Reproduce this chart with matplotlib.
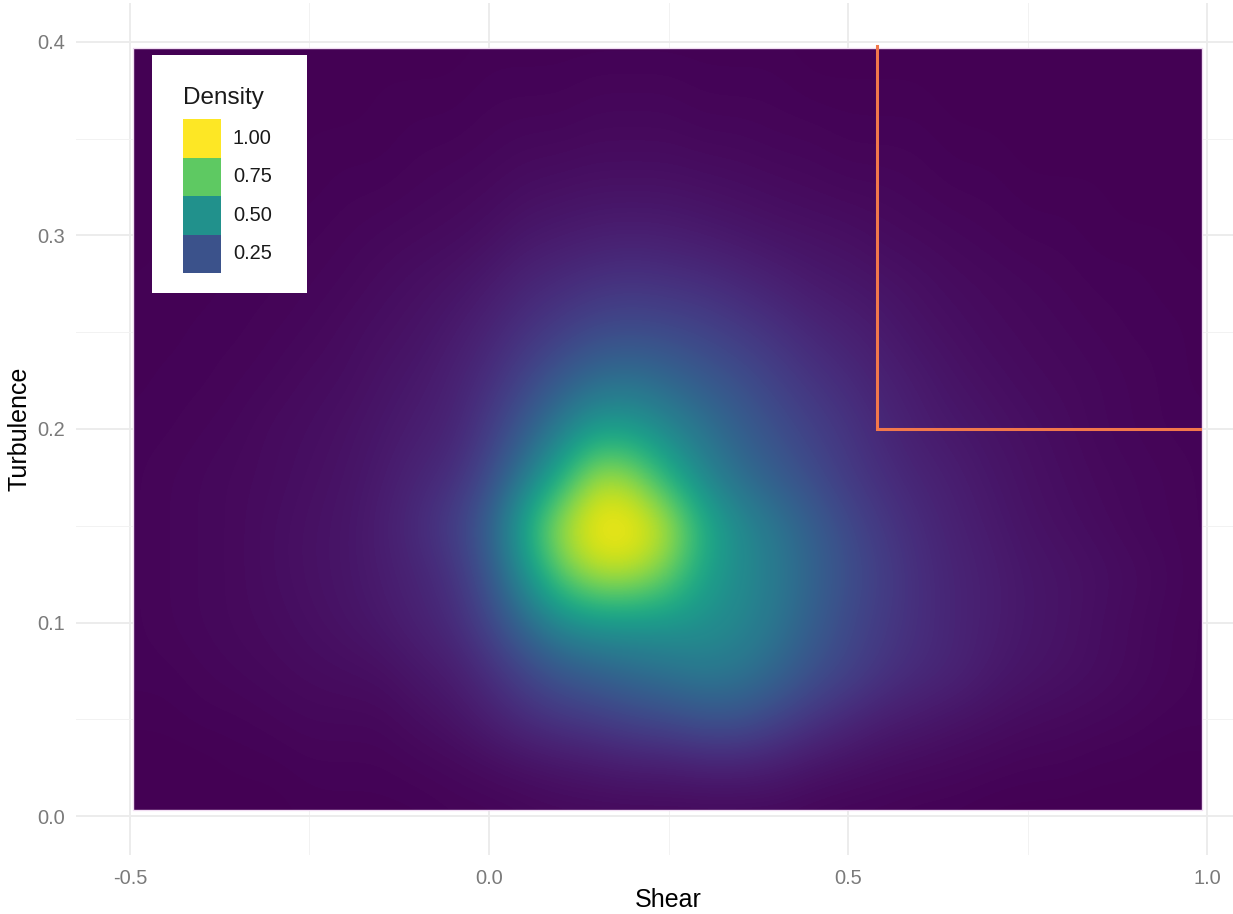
import numpy as np
import matplotlib
matplotlib.use("Agg")
import matplotlib.pyplot as plt
from matplotlib.patches import Rectangle

plt.rcParams['font.family'] = ['Liberation Sans', 'DejaVu Sans']

# scaled 2d density of shear vs turbulence, sampled on a regular grid
shear_vals = np.round(np.arange(-0.5, 1.0001, 0.05), 3)      # 31 columns
turb_vals = np.round(np.arange(0.0, 0.4001, 0.025), 3)       # 17 rows

#            -0.5  -0.45 -0.4  -0.35 -0.3  -0.25 -0.2  -0.15 -0.1  -0.05  0.0   0.05  0.1   0.15  0.2   0.25  0.3   0.35  0.4   0.45  0.5   0.55  0.6   0.65  0.7   0.75  0.8   0.85  0.9   0.95  1.0
dens_000 = [0.0, 0.0, 0.0, 0.0, 0.0, 0.005, 0.005, 0.005, 0.005, 0.01, 0.01, 0.015, 0.02, 0.02, 0.02, 0.02, 0.02, 0.02, 0.02, 0.015, 0.01, 0.01, 0.005, 0.005, 0.0, 0.0, 0.0, 0.0, 0.0, 0.0, 0.0]
dens_025 = [0.0, 0.0, 0.0, 0.005, 0.005, 0.01, 0.01, 0.01, 0.015, 0.02, 0.03, 0.04, 0.05, 0.06, 0.07, 0.07, 0.08, 0.08, 0.07, 0.05, 0.04, 0.03, 0.025, 0.02, 0.015, 0.01, 0.01, 0.005, 0.005, 0.0, 0.0]
dens_050 = [0.005, 0.005, 0.01, 0.01, 0.015, 0.02, 0.02, 0.02, 0.035, 0.05, 0.08, 0.12, 0.15, 0.17, 0.2, 0.22, 0.25, 0.25, 0.2, 0.15, 0.11, 0.08, 0.065, 0.05, 0.04, 0.03, 0.025, 0.02, 0.015, 0.01, 0.01]
dens_075 = [0.01, 0.01, 0.015, 0.02, 0.025, 0.03, 0.035, 0.04, 0.06, 0.08, 0.13, 0.2, 0.27, 0.31, 0.35, 0.38, 0.41, 0.39, 0.33, 0.25, 0.2, 0.15, 0.12, 0.1, 0.07, 0.055, 0.045, 0.035, 0.025, 0.015, 0.01]
dens_100 = [0.01, 0.015, 0.02, 0.025, 0.03, 0.04, 0.05, 0.065, 0.09, 0.12, 0.2, 0.34, 0.47, 0.52, 0.52, 0.52, 0.5, 0.46, 0.39, 0.3, 0.22, 0.17, 0.13, 0.1, 0.08, 0.06, 0.05, 0.035, 0.025, 0.015, 0.01]
dens_125 = [0.01, 0.015, 0.02, 0.025, 0.035, 0.045, 0.055, 0.075, 0.1, 0.14, 0.26, 0.5, 0.76, 0.9, 0.9, 0.78, 0.58, 0.48, 0.41, 0.32, 0.24, 0.18, 0.13, 0.1, 0.08, 0.06, 0.05, 0.04, 0.03, 0.02, 0.01]
dens_150 = [0.01, 0.015, 0.02, 0.025, 0.035, 0.045, 0.055, 0.08, 0.12, 0.18, 0.3, 0.6, 0.88, 1.0, 1.0, 0.9, 0.63, 0.48, 0.39, 0.3, 0.22, 0.16, 0.12, 0.09, 0.07, 0.05, 0.04, 0.03, 0.02, 0.015, 0.01]
dens_175 = [0.01, 0.015, 0.02, 0.025, 0.03, 0.04, 0.05, 0.07, 0.1, 0.13, 0.22, 0.4, 0.62, 0.88, 0.84, 0.63, 0.46, 0.36, 0.29, 0.23, 0.17, 0.13, 0.1, 0.08, 0.06, 0.045, 0.035, 0.025, 0.02, 0.015, 0.01]
dens_200 = [0.01, 0.01, 0.015, 0.02, 0.03, 0.035, 0.045, 0.06, 0.08, 0.1, 0.17, 0.28, 0.42, 0.55, 0.54, 0.46, 0.38, 0.3, 0.24, 0.19, 0.15, 0.11, 0.08, 0.065, 0.05, 0.04, 0.03, 0.02, 0.015, 0.01, 0.01]
dens_225 = [0.005, 0.01, 0.01, 0.015, 0.02, 0.03, 0.035, 0.05, 0.065, 0.09, 0.13, 0.2, 0.28, 0.35, 0.37, 0.33, 0.28, 0.24, 0.19, 0.15, 0.12, 0.09, 0.07, 0.05, 0.04, 0.03, 0.025, 0.02, 0.015, 0.01, 0.005]
dens_250 = [0.005, 0.005, 0.01, 0.01, 0.015, 0.02, 0.03, 0.04, 0.05, 0.07, 0.1, 0.14, 0.18, 0.22, 0.23, 0.22, 0.2, 0.17, 0.14, 0.11, 0.09, 0.07, 0.05, 0.04, 0.03, 0.025, 0.02, 0.015, 0.01, 0.01, 0.005]
dens_275 = [0.005, 0.005, 0.005, 0.01, 0.01, 0.015, 0.02, 0.03, 0.04, 0.05, 0.07, 0.1, 0.12, 0.14, 0.15, 0.14, 0.13, 0.11, 0.09, 0.07, 0.06, 0.05, 0.04, 0.03, 0.025, 0.02, 0.015, 0.01, 0.01, 0.005, 0.005]
dens_300 = [0.0, 0.005, 0.005, 0.005, 0.01, 0.01, 0.015, 0.02, 0.025, 0.03, 0.04, 0.06, 0.07, 0.08, 0.085, 0.08, 0.07, 0.06, 0.05, 0.045, 0.04, 0.03, 0.025, 0.02, 0.015, 0.01, 0.01, 0.005, 0.005, 0.005, 0.0]
dens_325 = [0.0, 0.0, 0.0, 0.005, 0.005, 0.005, 0.01, 0.01, 0.015, 0.02, 0.025, 0.035, 0.04, 0.045, 0.045, 0.045, 0.04, 0.035, 0.03, 0.025, 0.02, 0.02, 0.015, 0.01, 0.01, 0.005, 0.005, 0.005, 0.0, 0.0, 0.0]
dens_350 = [0.0, 0.0, 0.0, 0.0, 0.0, 0.005, 0.005, 0.005, 0.01, 0.01, 0.015, 0.02, 0.02, 0.025, 0.025, 0.025, 0.02, 0.02, 0.015, 0.015, 0.01, 0.01, 0.01, 0.005, 0.005, 0.0, 0.0, 0.0, 0.0, 0.0, 0.0]
dens_375 = [0.0, 0.0, 0.0, 0.0, 0.0, 0.0, 0.0, 0.005, 0.005, 0.005, 0.01, 0.01, 0.01, 0.015, 0.015, 0.015, 0.01, 0.01, 0.01, 0.005, 0.005, 0.005, 0.005, 0.0, 0.0, 0.0, 0.0, 0.0, 0.0, 0.0, 0.0]
dens_400 = [0.0, 0.0, 0.0, 0.0, 0.0, 0.0, 0.0, 0.0, 0.0, 0.0, 0.005, 0.005, 0.005, 0.005, 0.005, 0.005, 0.005, 0.005, 0.005, 0.0, 0.0, 0.0, 0.0, 0.0, 0.0, 0.0, 0.0, 0.0, 0.0, 0.0, 0.0]

density = np.array([dens_000, dens_025, dens_050, dens_075, dens_100, dens_125,
                    dens_150, dens_175, dens_200, dens_225, dens_250, dens_275,
                    dens_300, dens_325, dens_350, dens_375, dens_400])

# region boundary drawn on top
bound_x = [0.54, 0.54, 0.99]
bound_y = [0.398, 0.2, 0.2]

legend_levels = [1.00, 0.75, 0.50, 0.25]

W, H = 1233, 914
fig = plt.figure(figsize=(W / 100, H / 100), dpi=100)
fig.patch.set_facecolor('white')

# panel spans beyond the right edge like the ggplot output
ax = fig.add_axes([76 / W, 1 - 855 / H, (1261 - 76) / W, (855 - 3) / H])
ax.set_xlim(-0.575, 1.075)
ax.set_ylim(-0.02, 0.42)
ax.set_facecolor('white')
for s in ax.spines.values():
    s.set_visible(False)

ax.set_xticks([-0.5, 0.0, 0.5, 1.0])
ax.set_xticks([-0.25, 0.25, 0.75], minor=True)
ax.set_yticks([0.0, 0.1, 0.2, 0.3, 0.4])
ax.set_yticks([0.05, 0.15, 0.25, 0.35], minor=True)
ax.set_xticklabels(['-0.5', '0.0', '0.5', '1.0'])
ax.set_yticklabels(['0.0', '0.1', '0.2', '0.3', '0.4'])
ax.tick_params(which='both', length=0)
ax.tick_params(axis='x', pad=10, labelsize=14.4, labelcolor='#7a7a7a')
ax.tick_params(axis='y', pad=8, labelsize=14.4, labelcolor='#7a7a7a')
ax.grid(which='major', color='#ebebeb', lw=1.3)
ax.grid(which='minor', color='#f2f2f2', lw=0.7)
ax.set_axisbelow(True)

dx = shear_vals[1] - shear_vals[0]
dy = turb_vals[1] - turb_vals[0]
img = ax.imshow(density, origin='lower', cmap='viridis', vmin=0, vmax=1,
                interpolation='bicubic', aspect='auto',
                extent=[shear_vals[0] - dx / 2, shear_vals[-1] + dx / 2,
                        turb_vals[0] - dy / 2, turb_vals[-1] + dy / 2],
                zorder=2)
clip = Rectangle((-0.495, 0.003), 0.993 + 0.495, 0.397 - 0.003,
                 transform=ax.transData)
img.set_clip_path(clip)
ax.add_patch(Rectangle((-0.495, 0.003), 0.993 + 0.495, 0.397 - 0.003,
                       fill=False, ec='#f1dcf2', lw=1.0, zorder=3))

ax.plot(bound_x, bound_y, color='#f2784b', lw=2.2, zorder=4,
        solid_joinstyle='miter')

ax.set_xlabel('Shear', fontsize=18, labelpad=0)
ax.set_ylabel('Turbulence', fontsize=18, labelpad=4)

# inset legend box
lg = fig.add_axes([152 / W, 1 - 293 / H, 155 / W, 238 / H])
lg.set_xlim(0, 155)
lg.set_ylim(238, 0)
lg.set_xticks([])
lg.set_yticks([])
lg.set_facecolor('white')
for s in lg.spines.values():
    s.set_visible(False)
lg.text(31, 43, 'Density', fontsize=17.5, va='center', ha='left', color='#1a1a1a')
key_h = 38.5
for i, lev in enumerate(legend_levels):
    top = 64 + i * key_h
    lg.add_patch(Rectangle((31, top), 38, key_h, color=plt.cm.viridis(lev), lw=0))
    lg.text(81, top + key_h / 2, f'{lev:.2f}', fontsize=14.4, va='center',
            ha='left', color='#1a1a1a')

fig.savefig('out.png', dpi=100)
